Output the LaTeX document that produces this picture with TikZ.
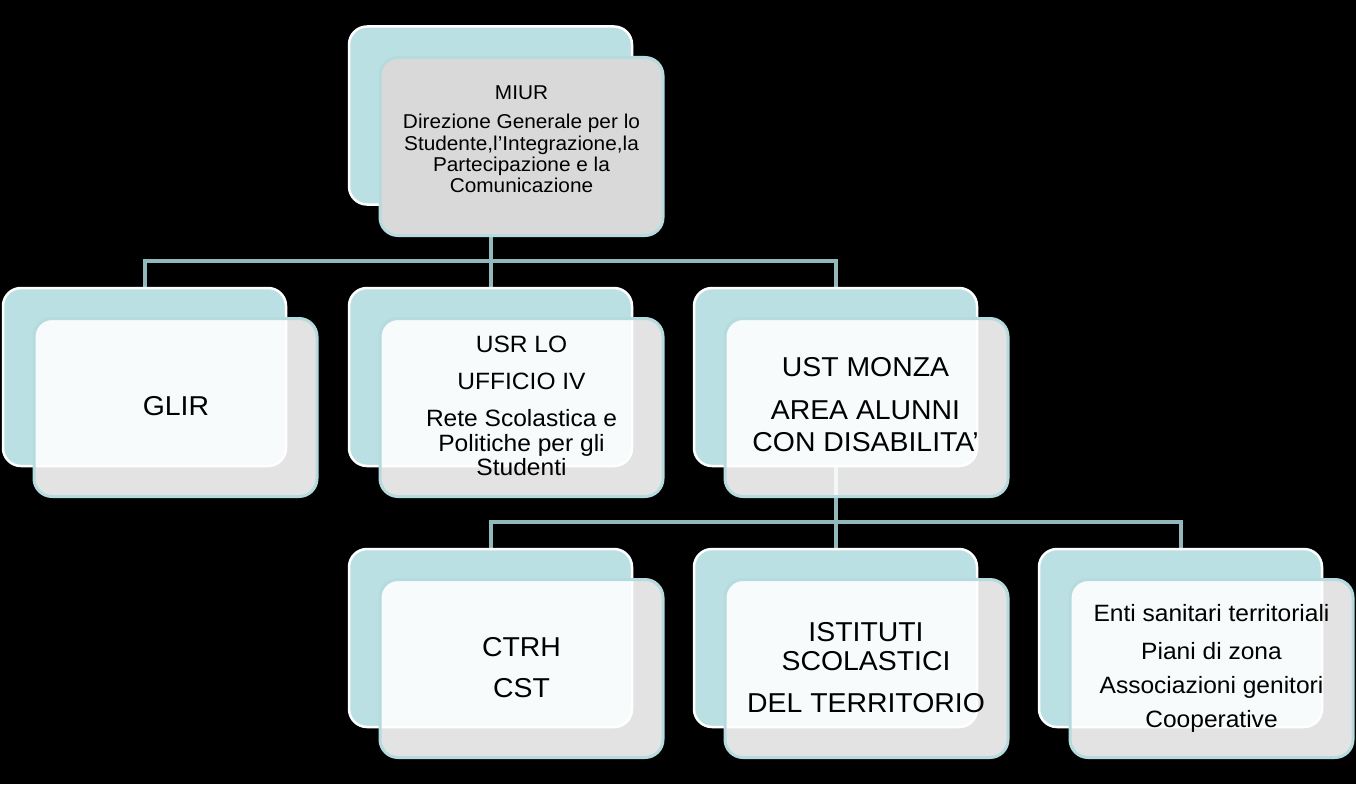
\documentclass[tikz,border=0pt]{standalone}
\usepackage{fontspec}
\setmainfont{Liberation Sans}[FakeStretch=1.04]
\definecolor{backteal}{HTML}{BBE0E3}
\definecolor{frontedge}{HTML}{B6DBDF}
\definecolor{conncol}{HTML}{93B8BB}
\definecolor{miurfill}{HTML}{D9D9D9}
\newcommand\FntBig{\fontsize{27.3}{31}\selectfont}
\newcommand\FntMid{\fontsize{23.6}{27}\selectfont}
\newcommand\FntSml{\fontsize{20}{23}\selectfont}
\pgfdeclarelayer{bottom}
\pgfdeclarelayer{bg}
\pgfsetlayers{bottom,bg,main}
\tikzset{
  backbox/.style={draw=white, line width=2.5pt, fill=backteal, rounded corners=18pt,
    minimum width=283pt, minimum height=178pt, inner sep=0pt},
  frontbox/.style={draw=frontedge, line width=3pt, fill=white, fill opacity=0.89,
    rounded corners=18pt, minimum width=283pt, minimum height=178pt, inner sep=0pt},
  miurbox/.style={frontbox, fill=miurfill, fill opacity=1},
  conn/.style={draw=conncol, line width=4pt},
  ln/.style={anchor=base, inner sep=0pt, text=black},
}
\begin{document}
\begin{tikzpicture}[x=1pt,y=-1pt]
\begin{pgfonlayer}{bottom}
\fill[black] (0,0) rectangle (1356,784);
\end{pgfonlayer}
\useasboundingbox (0,0) rectangle (1356,784);
\coordinate (bus1) at (0,261);
\coordinate (bus2) at (0,522);
% back boxes
\node[backbox] (miur-b) at (490.5,115.5) {};
\node[backbox] (glir-b) at (144.5,377) {};
\node[backbox] (usr-b)  at (490.5,377) {};
\node[backbox] (ust-b)  at (835.5,377) {};
\node[backbox] (ctrh-b) at (490.5,638) {};
\node[backbox] (ist-b)  at (835.5,638) {};
\node[backbox] (enti-b) at (1180.5,638) {};
% front boxes
\node[miurbox]  (miur-f) at (521.5,146.5) {};
\node[frontbox] (glir-f) at (175.5,407.5) {};
\node[frontbox] (usr-f)  at (521.5,407.5) {};
\node[frontbox] (ust-f)  at (866.5,407.5) {};
\node[frontbox] (ctrh-f) at (521.5,668.5) {};
\node[frontbox] (ist-f)  at (866.5,668.5) {};
\node[frontbox] (enti-f) at (1211.5,668.5) {};
% connectors
\begin{pgfonlayer}{bg}
\draw[conn] (miur-b.center) -- (miur-b.center |- bus1) -| (glir-b.center);
\draw[conn] (miur-b.center |- bus1) -| (usr-b.center);
\draw[conn] (miur-b.center |- bus1) -| (ust-b.center);
\draw[conn] (ust-b.center) -- (ust-b.center |- bus2) -| (ctrh-b.center);
\draw[conn] (ust-b.center |- bus2) -| (ist-b.center);
\draw[conn] (ust-b.center |- bus2) -| (enti-b.center);
\end{pgfonlayer}
% texts
\node[ln, font=\FntSml] (miur-t1) at (521.5,99) {MIUR};
\node[ln, font=\FntSml] (miur-t2) at (521.5,128.7) {Direzione Generale per lo};
\node[ln, font=\FntSml] (miur-t3) at (521.5,150.7) {Studente,l’Integrazione,la};
\node[ln, font=\FntSml] (miur-t4) at (521.5,171) {Partecipazione e la};
\node[ln, font=\FntSml] (miur-t5) at (521.5,192) {Comunicazione};
\node[ln, font=\FntBig] (glir-t1) at (176,415.7) {GLIR};
\node[ln, font=\FntMid] (usr-t1) at (521.5,352.3) {USR LO};
\node[ln, font=\FntMid] (usr-t2) at (521.5,389) {UFFICIO IV};
\node[ln, font=\FntMid] (usr-t3) at (521.5,426) {Rete Scolastica e};
\node[ln, font=\FntMid] (usr-t4) at (521.5,451) {Politiche per gli};
\node[ln, font=\FntMid] (usr-t5) at (521.5,475) {Studenti};
\node[ln, font=\FntBig] (ust-t1) at (865.5,376.7) {UST MONZA};
\node[ln, font=\FntBig] (ust-t2) at (865.5,419) {AREA ALUNNI};
\node[ln, font=\FntBig] (ust-t3) at (865.5,451.7) {CON DISABILITA’};
\node[ln, font=\FntBig] (ctrh-t1) at (521.5,656) {CTRH};
\node[ln, font=\FntBig] (ctrh-t2) at (521.5,697.7) {CST};
\node[ln, font=\FntBig] (ist-t1) at (866,641) {ISTITUTI};
\node[ln, font=\FntBig] (ist-t2) at (866,670.7) {SCOLASTICI};
\node[ln, font=\FntBig] (ist-t3) at (866,712.3) {DEL TERRITORIO};
\node[ln, font=\FntMid] (enti-t1) at (1211.5,621.7) {Enti sanitari territoriali};
\node[ln, font=\FntMid] (enti-t2) at (1211.5,659) {Piani di zona};
\node[ln, font=\FntMid] (enti-t3) at (1211.5,693.3) {Associazioni genitori};
\node[ln, font=\FntMid] (enti-t4) at (1211.5,727.3) {Cooperative};
\end{tikzpicture}
\end{document}
